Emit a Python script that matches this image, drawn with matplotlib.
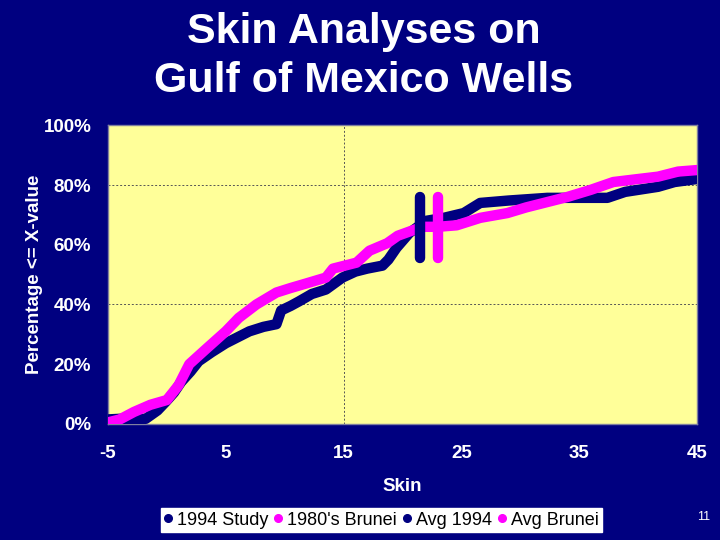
import matplotlib
matplotlib.use("Agg")
import matplotlib.pyplot as plt
from matplotlib.ticker import FuncFormatter

NAVY = "#000080"
PINK = "#FF00FF"
YELLOW = "#FFFF99"

# cumulative distributions (skin, percentage)
study_x = [-5.0, -4.0, -3.0, -1.8, -0.8, -0.1, 0.6, 1.2, 2.0, 2.7, 3.8, 5.0, 6.0, 7.0,
           8.2, 9.3, 9.7, 10.5, 11.2, 12.3, 13.5, 14.9, 16.0, 17.0, 18.3, 18.8, 19.5,
           20.6, 22.0, 23.5, 25.2, 26.6, 29.0, 32.3, 35.0, 37.4, 38.9, 41.7, 43.1, 45.0]
study_y = [1.5, 1.7, 1.7, 1.7, 4.5, 7.4, 10.5, 14.0, 17.5, 21.0, 24.0, 27.0, 29.0, 31.0,
           32.5, 33.4, 38.0, 39.5, 41.0, 43.5, 45.0, 49.0, 51.0, 52.0, 53.0, 55.0, 59.0,
           64.0, 68.0, 69.0, 70.6, 74.0, 74.8, 75.7, 75.7, 75.7, 77.7, 79.4, 81.0, 82.0]
brunei_x = [-5.0, -4.0, -2.8, -1.4, 0.0, 1.0, 1.9, 3.3, 5.0, 6.1, 7.6, 9.3, 10.5, 11.8,
            13.5, 14.1, 16.1, 17.2, 18.7, 19.6, 21.7, 23.0, 24.6, 26.6, 28.9, 30.5, 32.3,
            34.0, 36.0, 37.9, 40.0, 41.7, 43.4, 45.0]
brunei_y = [0.5, 1.5, 4.0, 6.4, 8.0, 13.0, 20.0, 25.0, 31.0, 35.5, 40.0, 44.0, 45.5, 47.0,
            49.0, 52.0, 54.0, 58.0, 60.5, 63.0, 66.0, 66.0, 66.5, 69.0, 70.6, 72.5, 74.3,
            76.0, 78.4, 81.0, 82.0, 82.8, 84.5, 85.0]
avg_1994 = 21.5
avg_brunei = 23.0
avg_span = [55.5, 76.0]
labels = ["1994 Study", "1980's Brunei", "Avg 1994", "Avg Brunei"]

plt.rcParams["font.family"] = ["Liberation Sans", "DejaVu Sans"]
plt.rcParams["axes.unicode_minus"] = False
fig = plt.figure(figsize=(7.2, 5.4), dpi=100)
fig.patch.set_facecolor(NAVY)
ax = fig.add_axes([0.15, 0.215, 0.818, 0.553])
ax.set_facecolor(YELLOW)

ax.plot(study_x, study_y, color=NAVY, lw=7.5, solid_capstyle="round",
        solid_joinstyle="round", zorder=3, label=labels[0])
ax.plot(brunei_x, brunei_y, color=PINK, lw=7.5, solid_capstyle="round",
        solid_joinstyle="round", zorder=4, label=labels[1])
ax.plot([avg_1994, avg_1994], avg_span, color=NAVY, lw=7.5, solid_capstyle="round",
        zorder=5, label=labels[2])
ax.plot([avg_brunei, avg_brunei], avg_span, color=PINK, lw=7.5, solid_capstyle="round",
        zorder=5, label=labels[3])

ax.set_xlim(-5, 45)
ax.set_ylim(0, 100)
ax.set_xticks([-5, 5, 15, 25, 35, 45])
ax.set_yticks([0, 20, 40, 60, 80, 100])
ax.yaxis.set_major_formatter(FuncFormatter(lambda v, p: f"{v:.0f}%"))
ax.tick_params(colors="white", labelsize=13.5, length=0)
ax.tick_params(axis="x", pad=15)
ax.tick_params(axis="y", pad=12)
for lbl in ax.get_xticklabels() + ax.get_yticklabels():
    lbl.set_fontweight("bold")
ax.axvline(15, color="#555555", lw=0.7, ls=(0, (2, 2)), zorder=1)
for yv in (40, 80):
    ax.axhline(yv, color="#555555", lw=0.7, ls=(0, (2, 2)), zorder=1)
for s in ax.spines.values():
    s.set_color("#7f7f9f")
    s.set_linewidth(1)

ax.set_xlabel("Skin", color="white", fontsize=13.5, fontweight="bold", labelpad=12)
ax.set_ylabel("Percentage <= X-value", color="white", fontsize=13.5,
              fontweight="bold", labelpad=0)

fig.text(0.505, 0.895, "Skin Analyses on\nGulf of Mexico Wells", color="white",
         fontsize=31, fontweight="bold", ha="center", va="center", linespacing=1.3)

handles = [plt.Line2D([], [], ls="none", marker="o", ms=5.5, color=c)
           for c in (NAVY, PINK, NAVY, PINK)]
leg = fig.legend(handles, labels, loc="center", bbox_to_anchor=(0.53, 0.037), ncol=4,
                 fontsize=13, frameon=True, fancybox=False, handlelength=0.4,
                 handletextpad=0.3, columnspacing=0.35, borderpad=0.2, framealpha=1,
                 borderaxespad=0)
leg.get_frame().set_facecolor("white")
leg.get_frame().set_edgecolor("white")

fig.text(0.977, 0.043, "11", color="white", fontsize=9, ha="center", va="center")

fig.savefig("out.png", dpi=100, facecolor=NAVY)
